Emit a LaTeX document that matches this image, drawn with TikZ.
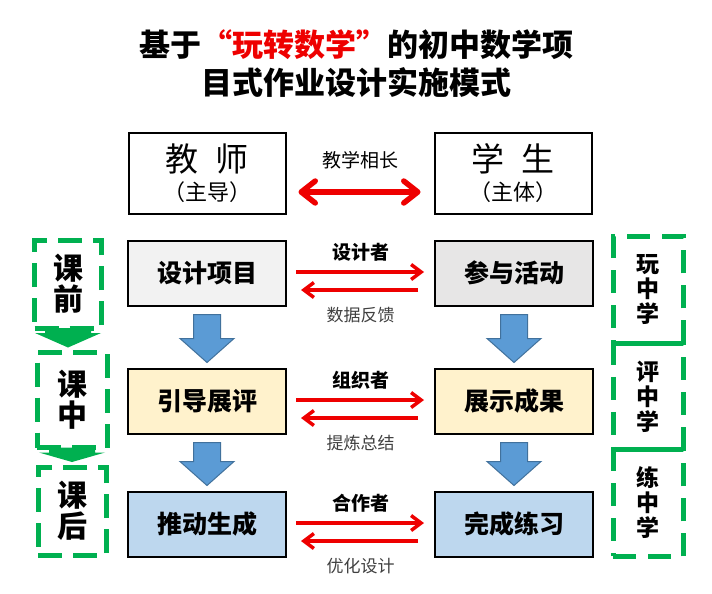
\documentclass[tikz,border=0pt]{standalone}
\usepackage{fontspec}
\setmainfont{Noto Sans CJK SC}
\usepackage{xcolor}
\usepackage{tikz}
\usetikzlibrary{arrows.meta,calc}
\usetikzlibrary{positioning}
\definecolor{planGray}{RGB}{242,242,242}
\definecolor{actGray}{RGB}{231,230,230}
\definecolor{showYellow}{RGB}{255,242,204}
\definecolor{doneBlue}{RGB}{189,215,238}
\definecolor{flowBlue}{RGB}{91,155,213}
\definecolor{flowEdge}{RGB}{65,113,156}
\definecolor{stageGreen}{RGB}{0,176,80}
\definecolor{linkRed}{RGB}{238,0,0}
\definecolor{noteGray}{RGB}{64,64,64}
\tikzstyle{block} = [rectangle, draw, line width=2pt,
    text centered, minimum height=65pt, minimum width=158pt,
    font=\bfseries\fontsize{25}{30}\selectfont]
\tikzstyle{role} = [rectangle, draw, line width=2pt, align=center,
    minimum height=81pt, minimum width=157pt]
\tikzstyle{stage} = [rectangle, draw=stageGreen, line width=5pt,
    dash pattern=on 24pt off 11pt, align=center, outer sep=0pt,
    font=\bfseries\fontsize{30}{31}\selectfont]
\tikzstyle{mode} = [rectangle, draw=stageGreen, line width=5pt,
    dash pattern=on 23pt off 12pt, align=center, outer sep=0pt,
    minimum width=70pt, minimum height=106.5pt,
    font=\bfseries\fontsize{23}{25}\selectfont]
\tikzstyle{fwd} = [draw=linkRed, line width=3.5pt,
    -{Straight Barb[length=10pt,width=15pt]}, shorten <=9pt, shorten >=10pt]
\tikzstyle{back} = [draw=linkRed, line width=3.5pt,
    -{Straight Barb[length=10pt,width=15pt]}, shorten <=16pt, shorten >=14pt]
\tikzstyle{mutual} = [draw=linkRed, line width=5.5pt, line cap=round,
    {Straight Barb[length=14pt,width=22pt,round]}-{Straight Barb[length=14pt,width=22pt,round]},
    shorten <=12pt, shorten >=13pt]
\tikzstyle{role_label} = [font=\bfseries\fontsize{19}{22}\selectfont]
\tikzstyle{note} = [text=noteGray, font=\fontsize{17}{20}\selectfont]
\tikzstyle{flow} = [fill=flowBlue, draw=flowEdge, line width=1pt]
\tikzstyle{stepflow} = [fill=stageGreen]
% block arrow from box #1 down to box #2
\newcommand{\flowdown}[2]{%
  \path [flow] let \p1=(#1.south), \p2=(#2.north) in
    (\x1-13.5pt,\y1-8pt) -- (\x1+13.5pt,\y1-8pt) -- (\x1+13.5pt,\y2+29pt)
    -- (\x1+27pt,\y2+29pt) -- (\x1,\y2+5pt) -- (\x1-27pt,\y2+29pt)
    -- (\x1-13.5pt,\y2+29pt) -- cycle;}
% short green arrow from stage #1 to stage #2
\newcommand{\stepdown}[2]{%
  \path [stepflow] let \p1=(#1.south), \p2=(#2.north) in
    (\x1-23pt,\y1) -- (\x1+23pt,\y1) -- (\x1+23pt,\y1-5pt)
    -- (\x1+33pt,\y1-5pt) -- (\x1,\y2+5pt) -- (\x1-33pt,\y1-5pt)
    -- (\x1-23pt,\y1-5pt) -- cycle;}

\begin{document}
\begin{tikzpicture}[x=1pt, y=-1pt, node distance = 147pt, auto]
    \useasboundingbox [fill=white] (0,0) rectangle (712,594);
    % Title
    \node [align=center, font=\bfseries\fontsize{31}{38}\selectfont] (title) at (356,64)
        {基于{\color{linkRed}“玩转数学”}的初中数学项\\目式作业设计实施模式};

    % Place nodes
    \node [block, fill=planGray] (design) at (207,273) {设计项目};
    \node [block, fill=showYellow, below=61pt of design] (guide) {引导展评};
    \node [block, fill=doneBlue, below=56pt of guide] (push) {推动生成};
    \node [block, fill=actGray, right=of design] (join) {参与活动};
    \node [block, fill=showYellow, right=of guide] (show) {展示成果};
    \node [block, fill=doneBlue, right=of push] (finish) {完成练习};

    \node [role, above=25pt of design] (teacher)
        {{\fontsize{33}{36}\selectfont 教\enspace 师}\\[6pt]{\fontsize{22}{26}\selectfont （主导）}};
    \node [role, right=of teacher] (student)
        {{\fontsize{33}{36}\selectfont 学\enspace 生}\\[6pt]{\fontsize{22}{26}\selectfont （主体）}};

    \node [stage, minimum width=67pt, minimum height=88pt] (before) at (68,284) {课\\前};
    \node [stage, minimum width=70pt, minimum height=95pt] (during) at (72,400) {课\\中};
    \node [stage, minimum width=68pt, minimum height=88pt] (after) at (72,511) {课\\后};

    \node [mode] (play) at (648,290) {玩\\中\\学};
    \node [mode, below=0pt of play] (judge) {评\\中\\学};
    \node [mode, below=0pt of judge] (practice) {练\\中\\学};

    % Draw edges
    \path [mutual] ([yshift=-19pt]teacher.east) --
        node [role_label, font=\fontsize{19}{22}\selectfont, yshift=32pt, anchor=center] {教学相长}
        ([yshift=-19pt]student.west);

    \path [fwd] ([yshift=1pt]design.east) --
        node [role_label, yshift=20pt, anchor=center] {设计者} ([yshift=1pt]join.west);
    \path [back] ([yshift=-17pt]join.west) --
        node [note, yshift=-25pt, anchor=center] {数据反馈} ([yshift=-17pt]design.east);
    \path [fwd] ([yshift=1pt]guide.east) --
        node [role_label, yshift=20pt, anchor=center] {组织者} ([yshift=1pt]show.west);
    \path [back] ([yshift=-17pt]show.west) --
        node [note, yshift=-25pt, anchor=center] {提炼总结} ([yshift=-17pt]guide.east);
    \path [fwd] ([yshift=1pt]push.east) --
        node [role_label, yshift=20pt, anchor=center] {合作者} ([yshift=1pt]finish.west);
    \path [back] ([yshift=-17pt]finish.west) --
        node [note, yshift=-25pt, anchor=center] {优化设计} ([yshift=-17pt]push.east);

    \flowdown{design}{guide}
    \flowdown{guide}{push}
    \flowdown{join}{show}
    \flowdown{show}{finish}

    \stepdown{before}{during}
    \stepdown{during}{after}
\end{tikzpicture}
\end{document}
